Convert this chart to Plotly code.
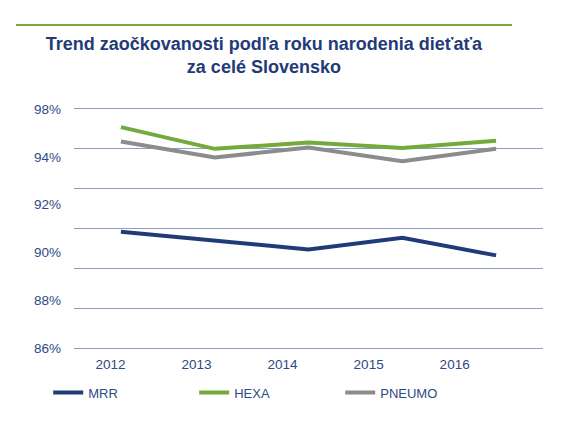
import plotly.graph_objects as go

years = ["2012", "2013", "2014", "2015", "2016"]
mrr = [91.84, 91.39, 90.95, 91.54, 90.65]
hexa = [97.09, 96.00, 96.32, 96.04, 96.40]
pneumo = [96.37, 95.56, 96.07, 95.38, 96.00]
y_labels = ["86%", "88%", "90%", "92%", "94%", "98%"]
grid_vals = [86, 88, 90, 92, 94, 96, 98]

navy = "#1F3B78"
green = "#74A93C"
gray = "#8C8C8C"
text_col = "#2C4A86"

y_lo, y_hi = 86, 98
n = len(y_labels) - 1
label_pos = [y_lo + i * (y_hi - y_lo) / n for i in range(len(y_labels))]

x_idx = list(range(len(years)))
# x tick labels in the source are drawn on a slightly compressed, left-shifted spacing
x_tick_start, x_tick_step = -0.11, 0.917
x_label_pos = [x_tick_start + i * x_tick_step for i in x_idx]

fig = go.Figure()
fig.add_trace(go.Scatter(x=x_idx, y=mrr, name="MRR", mode="lines",
                         line=dict(color=navy, width=4)))
fig.add_trace(go.Scatter(x=x_idx, y=hexa, name="HEXA", mode="lines",
                         line=dict(color=green, width=4)))
fig.add_trace(go.Scatter(x=x_idx, y=pneumo, name="PNEUMO", mode="lines",
                         line=dict(color=gray, width=4)))

fig.update_layout(
    width=570, height=423,
    margin=dict(l=74, r=27, t=107, b=73),
    paper_bgcolor="white", plot_bgcolor="white",
    font=dict(family="Liberation Sans, Arial", color=text_col, size=13),
    title=dict(text="<b>Trend zaočkovanosti podľa roku narodenia dieťaťa<br>za celé Slovensko</b>",
               x=0.463, xanchor="center", y=1 - 50 / 423, yanchor="middle",
               font=dict(size=18, color=navy)),
    xaxis=dict(range=[-0.5, len(years) - 0.5], tickvals=x_label_pos, ticktext=years,
               showgrid=False, showline=False, zeroline=False, ticks="",
               ticklabelstandoff=4,
               tickfont=dict(size=13.5, color=text_col)),
    yaxis=dict(range=[y_lo - 0.1, y_hi + 0.1], tickvals=label_pos, ticktext=y_labels,
               showgrid=False, zeroline=False, showline=False, ticks="",
               ticklabelstandoff=12,
               tickfont=dict(size=13.5, color=text_col),
               minor=dict(tickvals=grid_vals, showgrid=True, gridcolor="#8F9DC6",
                          gridwidth=1, ticks="")),
    legend=dict(orientation="h", x=-0.055, y=-0.1135, xanchor="left", yanchor="top",
                entrywidth=101, entrywidthmode="pixels",
                font=dict(size=13, color=text_col)),
    shapes=[dict(type="line", xref="paper", yref="paper",
                 x0=(16 - 74) / 469, x1=(512 - 74) / 469,
                 y0=1 + (107 - 25) / 243, y1=1 + (107 - 25) / 243,
                 line=dict(color=green, width=2))],
)

fig.write_html("out.html")
